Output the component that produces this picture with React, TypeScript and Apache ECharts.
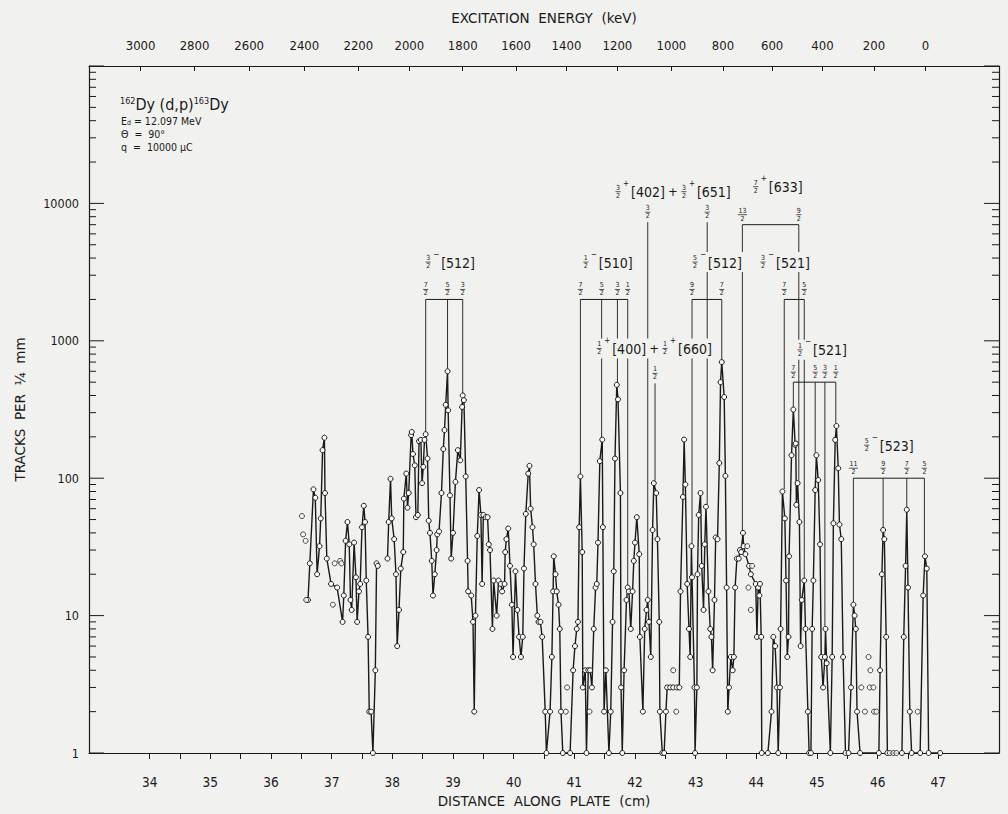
import React, { useEffect, useRef } from "react";
import * as echarts from "echarts";

const FONT = '"DejaVu Sans Condensed", "Liberation Sans Narrow", "DejaVu Sans", sans-serif';
const INK = "#1a1a1a";
const PAPER = "#f1f1ef";
const DOT = "#fbfbfb";

// Track counts along the plate: [distance (cm), tracks per 1/4 mm]
const scanA: [number, number][] = [
  [36.61, 13], [36.64, 24], [36.7, 83], [36.73, 72], [36.76, 20], [36.8, 32], [36.82, 51], [36.85, 160],
  [36.88, 197], [36.89, 78], [36.92, 26], [36.99, 17], [37.09, 16], [37.18, 9], [37.2, 14], [37.23, 35],
  [37.26, 48], [37.29, 33], [37.31, 13], [37.33, 11], [37.37, 34], [37.4, 19], [37.42, 9], [37.45, 15],
  [37.47, 17], [37.5, 44], [37.53, 63], [37.55, 48], [37.57, 18], [37.6, 7], [37.62, 2], [37.65, 2],
  [37.68, 1], [37.72, 4], [37.74, 24], [37.76, 23],
];

const scanB: [number, number][] = [
  [37.92, 26], [37.94, 48], [37.97, 99], [37.99, 51], [38.03, 36], [38.06, 20], [38.08, 6], [38.11, 11],
  [38.14, 22], [38.18, 29], [38.19, 71], [38.23, 108], [38.25, 61], [38.27, 78], [38.31, 206], [38.32, 217],
  [38.34, 150], [38.37, 124], [38.39, 52], [38.42, 54], [38.44, 186], [38.47, 190], [38.49, 92], [38.51, 121],
  [38.53, 190], [38.55, 209], [38.58, 139], [38.6, 49], [38.62, 40], [38.65, 25], [38.67, 14], [38.7, 20],
  [38.73, 30], [38.74, 39], [38.77, 41], [38.81, 78], [38.84, 163], [38.86, 224], [38.88, 342], [38.91, 600],
  [38.92, 312], [38.95, 75], [38.97, 26], [39.0, 40], [39.04, 94], [39.08, 160], [39.12, 135], [39.15, 330],
  [39.16, 400], [39.18, 370], [39.21, 103], [39.24, 25], [39.25, 15], [39.3, 14], [39.33, 9], [39.35, 2],
  [39.37, 10], [39.4, 38], [39.43, 82], [39.46, 54], [39.48, 17], [39.5, 54], [39.54, 52], [39.57, 52],
  [39.59, 33], [39.61, 30], [39.65, 8], [39.67, 18], [39.72, 10], [39.75, 18], [39.79, 17], [39.81, 15],
  [39.85, 17], [39.86, 29], [39.88, 36], [39.91, 43], [39.94, 23], [39.97, 12], [39.99, 5], [40.03, 21],
  [40.06, 11], [40.09, 7], [40.12, 5], [40.15, 7], [40.17, 22], [40.2, 55], [40.24, 108], [40.26, 123],
  [40.28, 60], [40.31, 44], [40.33, 33], [40.36, 17], [40.39, 10], [40.41, 9], [40.44, 9], [40.47, 7],
  [40.52, 2], [40.54, 1], [40.6, 2], [40.63, 5], [40.65, 15], [40.66, 27], [40.69, 20], [40.71, 15],
  [40.74, 12], [40.76, 8], [40.78, 2], [40.81, 1], [40.93, 1], [40.98, 4], [41.01, 6], [41.04, 8],
  [41.06, 9], [41.08, 44], [41.1, 103], [41.13, 29], [41.14, 3], [41.18, 4], [41.2, 1], [41.23, 4],
  [41.26, 4], [41.29, 3], [41.32, 8], [41.35, 16], [41.37, 17], [41.39, 34], [41.42, 133], [41.46, 191],
  [41.47, 44], [41.49, 2], [41.52, 4], [41.57, 1], [41.6, 2], [41.63, 9], [41.65, 21], [41.67, 139],
  [41.7, 478], [41.72, 375], [41.76, 78], [41.77, 3], [41.79, 1], [41.82, 4], [41.86, 13], [41.88, 16],
  [41.9, 15], [41.93, 8], [41.96, 15], [41.98, 25], [42.0, 34], [42.03, 52], [42.07, 28], [42.08, 7],
  [42.13, 2], [42.16, 8], [42.19, 11], [42.21, 13], [42.23, 9], [42.26, 5], [42.29, 42], [42.31, 92],
  [42.35, 78], [42.37, 36], [42.4, 9], [42.41, 2], [42.45, 1], [42.48, 1], [42.51, 2], [42.53, 3],
  [42.58, 3], [42.63, 3], [42.69, 3], [42.73, 3], [42.75, 15], [42.79, 73], [42.81, 191], [42.83, 90],
  [42.86, 17], [42.89, 8], [42.91, 5], [42.93, 32], [42.94, 19], [42.98, 3], [42.99, 1], [43.02, 3],
  [43.03, 20], [43.05, 54], [43.08, 78], [43.1, 23], [43.13, 11], [43.15, 33], [43.17, 62], [43.21, 15],
  [43.24, 8], [43.26, 7], [43.28, 4], [43.31, 13], [43.33, 37], [43.36, 36], [43.39, 129], [43.41, 500],
  [43.43, 700], [43.47, 390], [43.49, 104], [43.51, 16], [43.53, 2], [43.55, 3], [43.58, 5], [43.61, 4],
  [43.63, 5], [43.65, 16], [43.68, 26], [43.71, 26], [43.73, 30], [43.75, 29], [43.78, 40], [43.79, 32],
  [43.82, 28], [43.88, 23], [43.91, 20], [43.99, 17], [44.01, 7], [44.03, 16], [44.05, 14], [44.06, 17],
  [44.08, 7], [44.09, 1], [44.19, 1], [44.25, 2], [44.28, 7], [44.31, 6], [44.34, 3], [44.36, 1],
  [44.39, 3], [44.4, 8], [44.43, 80], [44.47, 51], [44.49, 18], [44.51, 5], [44.53, 7], [44.54, 27],
  [44.58, 147], [44.61, 316], [44.64, 175], [44.65, 179], [44.66, 64], [44.68, 92], [44.71, 48], [44.73, 6],
  [44.75, 13], [44.79, 18], [44.81, 8], [44.85, 2], [44.87, 1], [44.9, 1], [44.92, 8], [44.94, 18],
  [44.97, 82], [44.99, 147], [45.02, 97], [45.05, 33], [45.07, 5], [45.1, 3], [45.13, 5], [45.14, 8],
  [45.16, 4.5], [45.22, 1], [45.25, 5], [45.27, 47], [45.3, 190], [45.32, 240], [45.35, 118], [45.37, 46],
  [45.4, 36], [45.43, 5], [45.47, 1], [45.52, 1], [45.56, 3], [45.6, 12], [45.62, 10], [45.64, 8],
  [45.66, 2], [45.71, 1], [46.02, 1], [46.04, 4], [46.07, 20], [46.09, 42], [46.11, 36], [46.14, 7],
  [46.16, 1], [46.4, 1], [46.43, 7], [46.46, 23], [46.48, 59], [46.5, 16], [46.53, 2], [46.56, 1],
  [46.7, 1], [46.75, 14], [46.78, 27], [46.81, 22], [46.84, 1], [47.03, 1],
];

// Readings plotted without a connecting line
const stray: [number, number][] = [
  [36.51, 53], [36.53, 39], [36.57, 35], [36.58, 13], [37.02, 12], [37.05, 24], [37.14, 25], [37.16, 24],
  [40.86, 2], [40.88, 3], [41.25, 2], [42.63, 4], [42.68, 2], [43.85, 32], [43.87, 16], [43.91, 11],
  [43.93, 23], [45.73, 3], [45.79, 2], [45.85, 5], [45.87, 3], [45.88, 4], [45.93, 3], [45.94, 2],
  [45.98, 2], [46.2, 1], [46.26, 1], [46.31, 1], [46.66, 2],
];

// Bottom scale (cm)
const distanceTicks = [34, 34.5, 35, 35.5, 36, 36.5, 37, 37.5, 38, 38.5, 39, 39.5, 40, 40.5, 41, 41.5, 42, 42.5, 43, 43.5, 44, 44.5, 45, 45.5, 46, 46.5, 47];
const distanceLabels = [34, 35, 36, 37, 38, 39, 40, 41, 42, 43, 44, 45, 46, 47];

// Top scale: excitation energy (keV) and where it falls on the plate (cm)
const energyLabels = [3000, 2800, 2600, 2400, 2200, 2000, 1800, 1600, 1400, 1200, 1000, 800, 600, 400, 200, 0];
const energyPositions = [33.85, 34.74, 35.64, 36.55, 37.44, 38.28, 39.16, 40.04, 40.87, 41.71, 42.6, 43.45, 44.26, 45.09, 45.94, 46.79];

// Vertical scale
const decadeTicks = [1, 10, 100, 1000, 10000, 100000];
const decadeLabels = [1, 10, 100, 1000, 10000];
const minorTicks: number[] = [];
for (let d = 1; d < 100000; d *= 10) for (let m = 2; m <= 9; m++) minorTicks.push(m * d);
const edgeTicks = [...decadeTicks, ...minorTicks];
const PLATE_MIN = 33;
const PLATE_MAX = 48;

// Level assignments: spin labels, plate positions, bracket height and lower end of each line
type Level = { spins: string[]; at: number[]; top: number; ends: number[] };
const levels: Level[] = [
  { spins: ["7/2", "5/2", "3/2"], at: [38.55, 38.91, 39.16], top: 2000, ends: [209, 600, 400] },
  { spins: ["7/2", "5/2", "3/2", "1/2"], at: [41.1, 41.45, 41.71, 41.88], top: 2000, ends: [103, 191, 478, 16] },
  { spins: ["3/2"], at: [42.21], top: 7300, ends: [13] },
  { spins: ["1/2"], at: [42.33], top: 490, ends: [92] },
  { spins: ["3/2"], at: [43.19], top: 7300, ends: [62] },
  { spins: ["9/2", "7/2"], at: [42.94, 43.43], top: 2000, ends: [32, 700] },
  { spins: ["13/2", "9/2"], at: [43.77, 44.7], top: 7000, ends: [40, 92] },
  { spins: ["7/2", "5/2"], at: [44.46, 44.79], top: 2000, ends: [80, 18] },
  { spins: ["7/2", "5/2", "3/2", "1/2"], at: [44.61, 44.97, 45.13, 45.31], top: 500, ends: [316, 147, 8, 240] },
  { spins: ["11/2", "9/2", "7/2", "5/2"], at: [45.6, 46.09, 46.48, 46.77], top: 100, ends: [12, 42, 59, 27] },
];

// Nilsson orbital labels
type Piece = { frac: string; sign: string; orbital: string };
const bandTitles: { pieces: Piece[]; at: [number, number] }[] = [
  { pieces: [{ frac: "3/2", sign: "−", orbital: "[512]" }], at: [38.59, 3740] },
  { pieces: [{ frac: "1/2", sign: "−", orbital: "[510]" }], at: [41.19, 3740] },
  { pieces: [{ frac: "3/2", sign: "+", orbital: "[402]" }, { frac: "3/2", sign: "+", orbital: "[651]" }], at: [41.72, 12170] },
  { pieces: [{ frac: "7/2", sign: "+", orbital: "[633]" }], at: [43.99, 13240] },
  { pieces: [{ frac: "5/2", sign: "−", orbital: "[512]" }], at: [42.99, 3740] },
  { pieces: [{ frac: "3/2", sign: "−", orbital: "[521]" }], at: [44.11, 3740] },
  { pieces: [{ frac: "1/2", sign: "+", orbital: "[400]" }, { frac: "1/2", sign: "+", orbital: "[660]" }], at: [41.41, 880] },
  { pieces: [{ frac: "1/2", sign: "−", orbital: "[521]" }], at: [44.72, 860] },
  { pieces: [{ frac: "5/2", sign: "−", orbital: "[523]" }], at: [45.82, 174] },
];

let measureCtx: CanvasRenderingContext2D | null = null;
function textWidth(text: string, size: number): number {
  if (!measureCtx) measureCtx = document.createElement("canvas").getContext("2d");
  if (!measureCtx) return text.length * size * 0.55;
  measureCtx.font = `${size}px ${FONT}`;
  return measureCtx.measureText(text).width;
}

function txt(x: number, y: number, text: string, size: number, align: string, vAlign: string) {
  return {
    type: "text",
    x,
    y,
    style: { text, fontSize: size, fontFamily: FONT, fill: INK, align, verticalAlign: vAlign },
  };
}

// stacked spin fraction centred on (cx, cy)
function fraction(cx: number, cy: number, label: string): any[] {
  const [num, den] = label.split("/");
  const half = Math.max(textWidth(num, 7), textWidth(den, 7)) / 2 + 0.6;
  return [
    txt(cx, cy - 0.5, num, 7, "center", "bottom"),
    { type: "line", shape: { x1: cx - half, y1: cy, x2: cx + half, y2: cy }, style: { stroke: INK, lineWidth: 0.7 } },
    txt(cx, cy + 0.5, den, 7, "center", "top"),
  ];
}

function renderLevel(params: any, api: any) {
  const lv = levels[params.dataIndex];
  const yTop = api.coord([lv.at[0], lv.top])[1];
  const xs = lv.at.map((v) => api.coord([v, lv.top])[0]);
  const kids: any[] = [];
  if (xs.length > 1) {
    kids.push({ type: "line", shape: { x1: xs[0], y1: yTop, x2: xs[xs.length - 1], y2: yTop }, style: { stroke: INK, lineWidth: 1 } });
  }
  lv.at.forEach((v, i) => {
    const yEnd = api.coord([v, lv.ends[i]])[1] - 2.5;
    kids.push({ type: "line", shape: { x1: xs[i], y1: yTop, x2: xs[i], y2: yEnd }, style: { stroke: INK, lineWidth: 0.9 } });
    kids.push(...fraction(xs[i], yTop - 10, lv.spins[i]));
  });
  return { type: "group", children: kids };
}

function renderTitle(params: any, api: any) {
  const t = bandTitles[params.dataIndex];
  const [x0, y0] = api.coord(t.at);
  let cx = x0;
  const kids: any[] = [];
  t.pieces.forEach((p, k) => {
    if (k > 0) {
      kids.push(txt(cx + 8, y0, "+", 13, "center", "middle"));
      cx += 19;
    }
    kids.push(...fraction(cx, y0, p.frac));
    kids.push(txt(cx + 5, y0 - 4, p.sign, 8, "left", "bottom"));
    const ox = cx + 13;
    kids.push(txt(ox, y0 + 0.5, p.orbital, 14, "left", "middle"));
    cx = ox + textWidth(p.orbital, 14);
  });
  const bg = { type: "rect", shape: { x: x0 - 7, y: y0 - 10, width: cx - x0 + 10, height: 20 }, style: { fill: PAPER } };
  return { type: "group", children: [bg, ...kids] };
}

// inward log ticks on both vertical edges of the frame
function renderEdgeTick(params: any, api: any) {
  const v = edgeTicks[params.dataIndex];
  const len = params.dataIndex < decadeTicks.length ? 15 : 7;
  const [xl, y] = api.coord([PLATE_MIN, v]);
  const xr = api.coord([PLATE_MAX, v])[0];
  const style = { stroke: INK, lineWidth: 1 };
  return {
    type: "group",
    children: [
      { type: "line", shape: { x1: xl, y1: y, x2: xl + len, y2: y }, style },
      { type: "line", shape: { x1: xr - len, y1: y, x2: xr, y2: y }, style },
    ],
  };
}

const axisText = { color: INK, fontFamily: FONT };
const nameText = { color: INK, fontFamily: '"DejaVu Sans", sans-serif', fontSize: 13.5 };
const frame = { show: true, lineStyle: { color: INK, width: 1.2 } };

const dotStyle = { color: DOT, borderColor: INK, borderWidth: 1 };

const option: any = {
  animation: false,
  backgroundColor: PAPER,
  grid: { left: 89, right: 9, top: 66, bottom: 61, containLabel: false },
  xAxis: [
    {
      type: "value",
      position: "bottom",
      min: PLATE_MIN,
      max: PLATE_MAX,
      axisLine: frame,
      axisTick: { inside: false, length: 6, customValues: distanceTicks, lineStyle: { color: INK, width: 1 } },
      axisLabel: { customValues: distanceLabels, margin: 22, fontSize: 13.5, ...axisText },
      splitLine: { show: false },
      name: "DISTANCE  ALONG  PLATE  (cm)",
      nameLocation: "middle",
      nameGap: 41,
      nameTextStyle: nameText,
    },
    {
      type: "value",
      position: "top",
      min: PLATE_MIN,
      max: PLATE_MAX,
      axisLine: frame,
      axisTick: { inside: true, length: 5, customValues: energyPositions, lineStyle: { color: INK, width: 1 } },
      axisLabel: {
        customValues: energyPositions,
        margin: 14,
        fontSize: 13,
        ...axisText,
        formatter: (v: number) => {
          let best = 0;
          energyPositions.forEach((p, i) => {
            if (Math.abs(p - v) < Math.abs(energyPositions[best] - v)) best = i;
          });
          return String(energyLabels[best]);
        },
      },
      splitLine: { show: false },
      name: "EXCITATION  ENERGY  (keV)",
      nameLocation: "middle",
      nameGap: 41,
      nameTextStyle: nameText,
    },
  ],
  yAxis: [
    {
      type: "log",
      logBase: 10,
      min: 1,
      max: 100000,
      position: "left",
      axisLine: frame,
      axisTick: { show: false },
      axisLabel: { customValues: decadeLabels, margin: 10, fontSize: 12.5, ...axisText, formatter: (v: number) => String(Math.round(v)) },
      splitLine: { show: false },
      minorTick: { show: false },
      name: "TRACKS  PER  ¼  mm",
      nameLocation: "middle",
      nameGap: 62,
      nameTextStyle: nameText,
    },
    {
      type: "log",
      logBase: 10,
      min: 1,
      max: 100000,
      position: "right",
      axisLine: frame,
      axisTick: { show: false },
      axisLabel: { show: false },
      splitLine: { show: false },
    },
  ],
  graphic: {
    elements: [
      {
        type: "text",
        x: 120,
        y: 104,
        style: {
          text: "{sup|162}Dy (d,p){sup|163}Dy",
          fontSize: 16,
          fontFamily: FONT,
          fill: INK,
          verticalAlign: "middle",
          rich: { sup: { fontSize: 9, fontFamily: FONT, fill: INK, verticalAlign: "top" } },
        },
      },
      {
        type: "text",
        x: 121,
        y: 121,
        style: {
          text: "E{sub|d} = 12.097 MeV",
          fontSize: 10.5,
          fontFamily: FONT,
          fill: INK,
          verticalAlign: "middle",
          rich: { sub: { fontSize: 7, fontFamily: FONT, fill: INK, verticalAlign: "bottom" } },
        },
      },
      { type: "text", x: 121, y: 134, style: { text: "Θ  =  90°", fontSize: 10.5, fontFamily: FONT, fill: INK, verticalAlign: "middle" } },
      { type: "text", x: 121, y: 147, style: { text: "q  =  10000 μC", fontSize: 10.5, fontFamily: FONT, fill: INK, verticalAlign: "middle" } },
    ],
  },
  series: [
    {
      type: "custom",
      name: "edgeTicks",
      xAxisIndex: 0,
      yAxisIndex: 0,
      data: edgeTicks.map((v) => [PLATE_MIN, v]),
      renderItem: renderEdgeTick,
      clip: false,
      silent: true,
      z: 1,
    },
    {
      type: "custom",
      name: "levels",
      xAxisIndex: 0,
      yAxisIndex: 0,
      data: levels.map((lv) => [lv.at[0], lv.top]),
      renderItem: renderLevel,
      silent: true,
      z: 2,
    },
    {
      type: "line",
      name: "scan",
      xAxisIndex: 0,
      yAxisIndex: 0,
      data: scanA,
      symbol: "circle",
      symbolSize: 5,
      showAllSymbol: true,
      lineStyle: { color: INK, width: 1.4 },
      itemStyle: dotStyle,
      silent: true,
      z: 3,
    },
    {
      type: "line",
      name: "scan",
      xAxisIndex: 0,
      yAxisIndex: 0,
      data: scanB,
      symbol: "circle",
      symbolSize: 5,
      showAllSymbol: true,
      lineStyle: { color: INK, width: 1.4 },
      itemStyle: dotStyle,
      silent: true,
      z: 3,
    },
    {
      type: "scatter",
      name: "stray",
      xAxisIndex: 0,
      yAxisIndex: 0,
      data: stray,
      symbol: "circle",
      symbolSize: 5,
      itemStyle: dotStyle,
      silent: true,
      z: 3,
    },
    {
      type: "custom",
      name: "orbitals",
      xAxisIndex: 0,
      yAxisIndex: 0,
      data: bandTitles.map((t) => t.at),
      renderItem: renderTitle,
      silent: true,
      z: 5,
    },
  ],
};

export default function App() {
  const ref = useRef<HTMLDivElement>(null);
  useEffect(() => {
    if (!ref.current) return;
    const chart = echarts.init(ref.current, undefined, { renderer: "svg" });
    chart.setOption(option);
    return () => chart.dispose();
  }, []);
  return (
    <div
      ref={ref}
      style={{ position: "absolute", left: 0, top: 0, width: 1008, height: 814, background: PAPER }}
    />
  );
}
